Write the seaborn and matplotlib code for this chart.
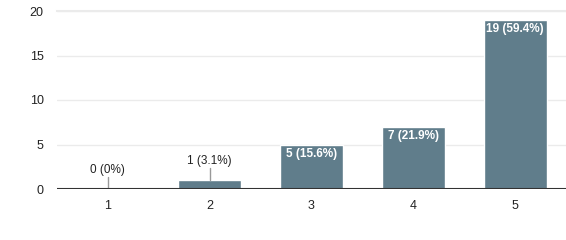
import matplotlib
matplotlib.use("Agg")
import matplotlib.pyplot as plt
import seaborn as sns
import pandas as pd

categories = ["1", "2", "3", "4", "5"]
counts = [0, 1, 5, 7, 19]
labels = ["0 (0%)", "1 (3.1%)", "5 (15.6%)", "7 (21.9%)", "19 (59.4%)"]
yticks = [0, 5, 10, 15, 20]

sns.set_theme(style="white")
plt.rcParams['font.family'] = ['Liberation Sans', 'DejaVu Sans']

df = pd.DataFrame({"cat": categories, "n": counts})

fig = plt.figure(figsize=(5.66, 2.4), dpi=100)
ax = fig.add_axes([57/566, 1-189/240, (566-57)/566, (189-11)/240])
sns.barplot(data=df, x="cat", y="n", color="#607d8b", saturation=1, width=0.62, ax=ax, zorder=3)

ax.set_xlim(-0.5, 4.5)
ax.set_ylim(0, 20)
ax.set_yticks(yticks)
ax.set_yticklabels([str(t) for t in yticks])
ax.yaxis.grid(True, color="#ebebeb", linewidth=1, zorder=0)
ax.set_axisbelow(True)
for s in ["left", "right", "bottom"]:
    ax.spines[s].set_visible(False)
ax.spines["top"].set_color("#ebebeb")
ax.spines["top"].set_linewidth(1.5)
ax.axhline(0, color="#333333", linewidth=1.5, zorder=5)
ax.set_xlabel("")
ax.set_ylabel("")
ax.tick_params(axis="both", length=0, labelsize=9, colors="#222222")
ax.tick_params(axis="y", pad=9.5)
ax.tick_params(axis="x", pad=8)

for i, (c, lab) in enumerate(zip(counts, labels)):
    if c < 3:
        ax.plot([i, i], [c, c + 1.35], color="#999999", linewidth=1, zorder=4)
        ax.text(i, c + 1.5, lab, ha="center", va="bottom", fontsize=8.5, color="#222222", zorder=6)
    else:
        ax.text(i, c - 0.35, lab, ha="center", va="top", fontsize=8.5, color="white",
                fontweight="bold", zorder=6)

fig.savefig("out.png", dpi=100)
